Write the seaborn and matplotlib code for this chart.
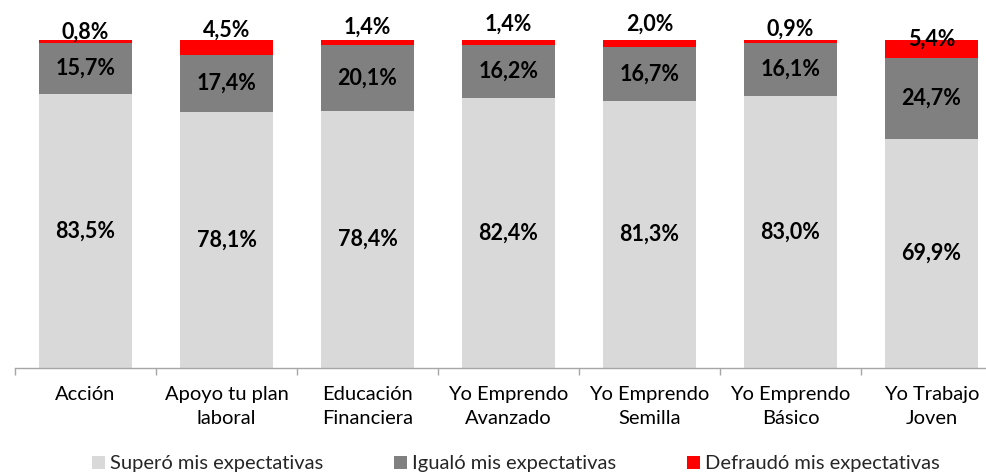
import numpy as np
import pandas as pd
import matplotlib
matplotlib.use("Agg")
import matplotlib.pyplot as plt
import seaborn as sns
from matplotlib.patches import Patch

categories = ["Acción", "Apoyo tu plan\nlaboral", "Educación\nFinanciera",
              "Yo Emprendo\nAvanzado", "Yo Emprendo\nSemilla", "Yo Emprendo\nBásico",
              "Yo Trabajo\nJoven"]
supero = [83.5, 78.1, 78.4, 82.4, 81.3, 83.0, 69.9]
igualo = [15.7, 17.4, 20.1, 16.2, 16.7, 16.1, 24.7]
defraudo = [0.8, 4.5, 1.4, 1.4, 2.0, 0.9, 5.4]
series_names = ["Superó mis expectativas", "Igualó mis expectativas", "Defraudó mis expectativas"]

# style
colors = ["#d9d9d9", "#808080", "#ff0000"]
red_label_offset_px = [8, 9.5, 12.5, 16, 15.5, 11, 1]

sns.set_theme(style="white")
plt.rcParams["font.family"] = ["Lato", "DejaVu Sans"]

df = pd.DataFrame({"cat": categories, "s": supero, "i": igualo, "d": defraudo})
df["c1"] = df["s"] / 100
df["c2"] = (df["s"] + df["i"]) / 100
df["c3"] = (df["s"] + df["i"] + df["d"]) / 100

fig = plt.figure(figsize=(9.86, 4.75), dpi=100)
W, H = 986, 475
left_px, right_px = 15, 986
top_px, bot_px = 40, 368
ax = fig.add_axes([left_px / W, 1 - bot_px / H, (right_px - left_px) / W, (bot_px - top_px) / H])

for col, c in zip(["c3", "c2", "c1"], colors[::-1]):
    sns.barplot(data=df, x="cat", y=col, color=c, width=0.66, ax=ax,
                saturation=1, linewidth=0, edgecolor="none", errorbar=None)

step = 141.0
ax.set_xlabel("")
ax.set_ylabel("")
ax.set_yticks([])
for s in ["top", "right", "left"]:
    ax.spines[s].set_visible(False)
ax.spines["bottom"].set_color("#a6a6a6")
ax.spines["bottom"].set_linewidth(1.0)

ax.set_xticks(range(len(categories)))
ax.set_xticklabels(categories, fontsize=14.5, color="black", linespacing=1.5)
ax.set_xticks(np.arange(-0.5, len(categories), 1.0), minor=True)
ax.tick_params(axis="x", which="major", length=0, pad=13)
ax.tick_params(axis="x", which="minor", length=5, width=1, color="#a6a6a6", direction="out", bottom=True)
ax.set_xlim(-0.5, -0.5 + (right_px - left_px) / step)
ax.set_ylim(0, 1)

def fmt(v):
    return f"{v:.1f}%".replace(".", ",")

for k in range(len(categories)):
    ax.text(k, df["c1"][k] / 2, fmt(supero[k]), ha="center", va="center",
            fontsize=15.5, fontweight="bold", color="black")
    ax.text(k, (df["c1"][k] + df["c2"][k]) / 2, fmt(igualo[k]), ha="center", va="center",
            fontsize=15.5, fontweight="bold", color="black")
    ax.annotate(fmt(defraudo[k]), xy=(k, 1.0), xytext=(0, red_label_offset_px[k] * 0.72),
                textcoords="offset points", ha="center", va="center",
                fontsize=15.5, fontweight="bold", color="black", annotation_clip=False)

handles = [Patch(facecolor=c, edgecolor="none") for c in colors]
fig.legend(handles, series_names, loc="center", bbox_to_anchor=(516 / W, 1 - 464 / H),
           ncol=3, frameon=False, fontsize=14.5, handlelength=0.65, handleheight=0.65,
           handletextpad=0.25, columnspacing=3.5, borderpad=0)

fig.savefig("out.png", dpi=100)
